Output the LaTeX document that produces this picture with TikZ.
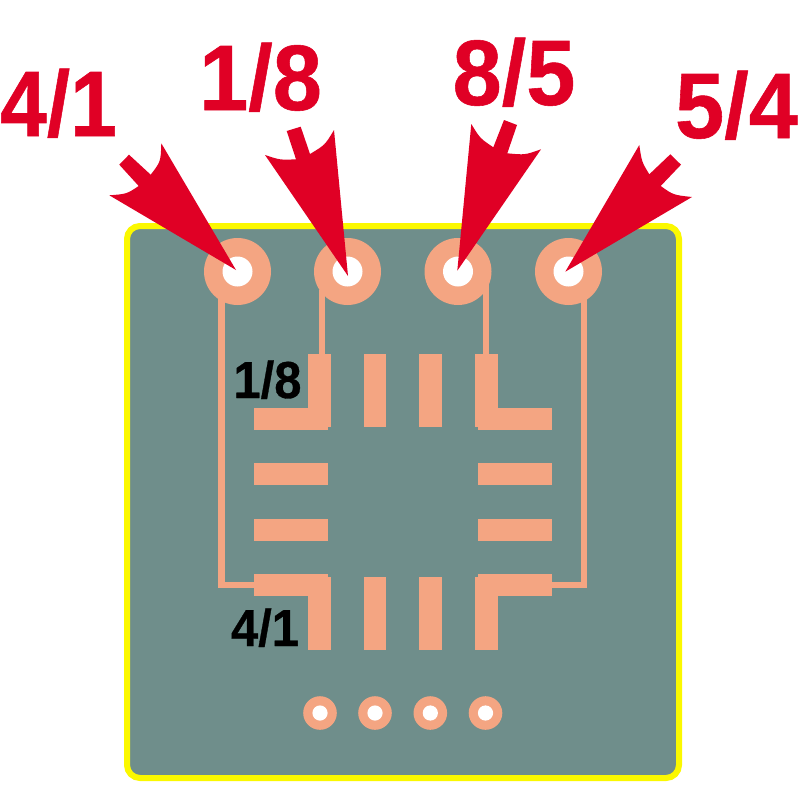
\documentclass[tikz,border=0pt]{standalone}
\usepackage{fontspec}
\setmainfont{Liberation Sans}
\newfontfamily\heavyfont[FakeBold=0.6]{Liberation Sans Bold}
\definecolor{boardc}{HTML}{6F8E8B}
\definecolor{copperc}{HTML}{F4A582}
\definecolor{yellowc}{HTML}{FBF800}
\definecolor{redc}{HTML}{E00025}
\tikzset{
  copper/.style={fill=copperc,draw=none},
  trace/.style={draw=copperc,line width=6.4pt,line cap=butt,line join=miter},
  pointer/.style={fill=redc,draw=none},
  biglabel/.style={text=redc,font=\heavyfont\fontsize{93}{93}\selectfont,inner sep=0pt,anchor=base,xscale=0.95},
  smalllabel/.style={text=black,font=\heavyfont\fontsize{52}{52}\selectfont,inner sep=0pt,anchor=base,xscale=0.94},
}
\begin{document}
\begin{tikzpicture}[x=1pt,y=-1pt]
\useasboundingbox (0,0) rectangle (800,800);
\fill[white] (0,0) rectangle (800,800);
% board
\draw[fill=boardc,draw=yellowc,line width=6pt,rounded corners=13pt] (127,226) rectangle (679,778);
% traces
\draw[trace] (221.6,271) -- (221.6,585.2) -- (256,585.2);
\draw[trace] (322,290) -- (322,356);
\draw[trace] (486.2,280) -- (486.2,356);
\draw[trace] (584,290) -- (584,585.2) -- (550,585.2);
% large pads
\foreach \px/\nm in {237.5/a,347.5/b,458/c,568.5/d}{
  \fill[copper] (\px,271.5) circle[radius=33.5];
  \fill[white] (\px,271.5) circle[radius=15];
}
% small pads
\foreach \px in {320,375,430.3,485.5}{
  \fill[copper] (\px,713) circle[radius=16.8];
  \fill[white] (\px,713) circle[radius=7.6];
}
% left and right pad columns
\foreach \xa/\xb in {254.3/327.7,478/552}{
  \foreach \ya/\yb in {407.7/429.7,463/485,519/540.7,574.3/596.3}{
    \fill[copper] (\xa,\ya) rectangle (\xb,\yb);
  }
}
% top and bottom pad rows
\foreach \ya/\yb in {353.7/426.7,577/650.3}{
  \foreach \xa/\xb in {308.3/330.7,363.7/386,419/441.5,475/497.5}{
    \fill[copper] (\xa,\ya) rectangle (\xb,\yb);
  }
}
% pointers
\fill[pointer] (236,270) -- (161.3,143.3) .. controls (160.7,161.7) .. (150.7,174.7)
  -- (129,154.7) -- (119.3,164.7) -- (138.7,186) .. controls (126.7,194) .. (109.3,195.3) -- cycle;
\fill[pointer] (348,276) -- (334,130) .. controls (325,145) .. (310,154)
  -- (300.7,126.7) -- (286.7,131) -- (296,159.3) .. controls (280,160) .. (265,155) -- cycle;
\fill[pointer] (457.3,270.7) -- (471.3,124) .. controls (480,138.3) .. (493.3,147.3)
  -- (504,120) -- (517,125) -- (507.3,153.3) .. controls (525,155) .. (541,149.3) -- cycle;
\fill[pointer] (565.3,271.7) -- (639.3,145) .. controls (641.7,161.7) .. (649.3,174.3)
  -- (670.3,154.3) -- (681,164.7) -- (660.7,186) .. controls (673.3,195) .. (692,197) -- cycle;
% labels
\node[biglabel,xscale=0.95] (l41) at (58.5,136) {4/1};
\node[biglabel] (l18) at (260.5,110) {1/8};
\node[biglabel] (l85) at (514,105) {8/5};
\node[biglabel] (l54) at (736.5,138) {5/4};
\node[smalllabel] (s18) at (267.5,398) {1/8};
\node[smalllabel] (s41) at (265,646) {4/1};
\end{tikzpicture}
\end{document}
